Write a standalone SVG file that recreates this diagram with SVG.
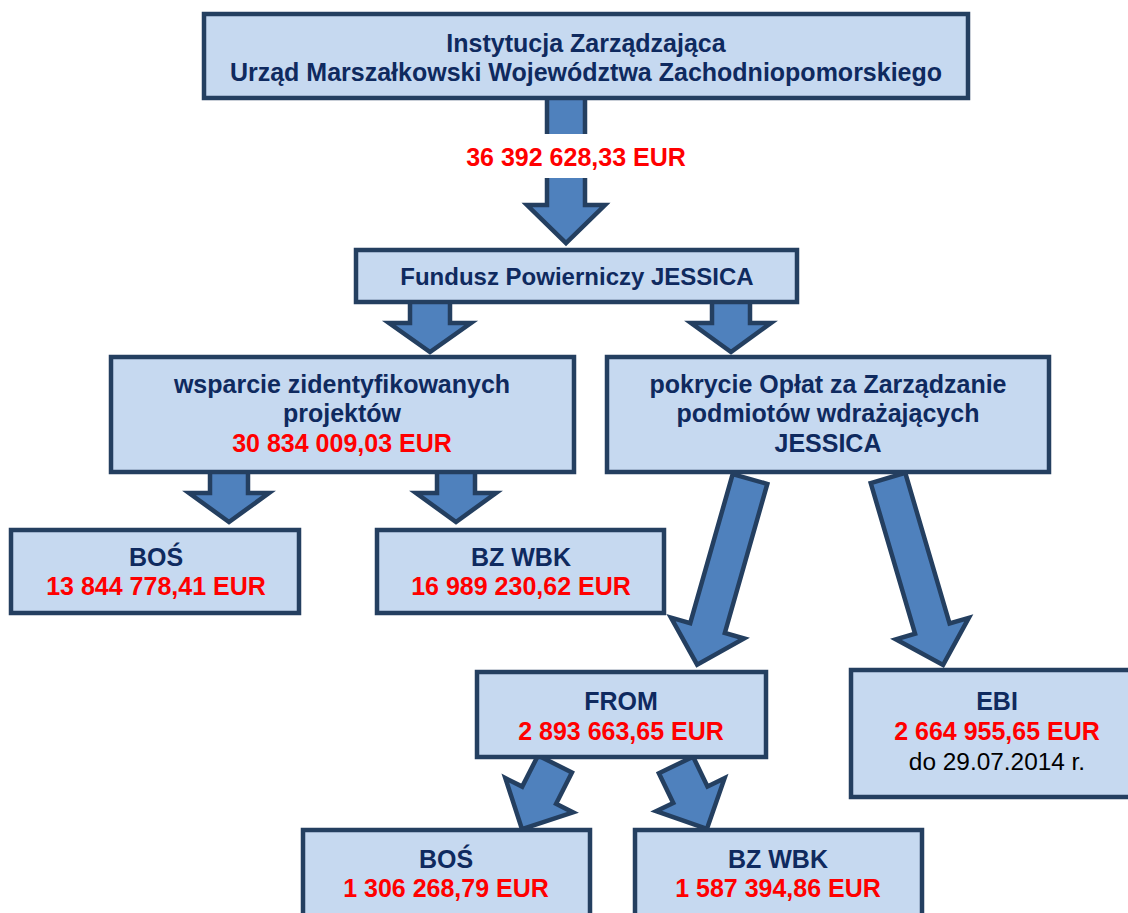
<svg xmlns="http://www.w3.org/2000/svg" width="1128" height="913" viewBox="0 0 1128 913">
<defs>
<style>
.box{fill:#c6d9f0;stroke:#243f60;stroke-width:4.5}
.arr{fill:#4f81bd;stroke:#243f60;stroke-width:4.5;stroke-linejoin:miter}
text{font-family:"Liberation Sans",Arial,sans-serif;font-size:25px;font-weight:bold;text-anchor:middle}
.n{fill:#0f2a5f}
.f{font-size:24px}
.r{fill:#ff0000;font-size:25px}
.k{fill:#000000;font-weight:normal;font-size:24.4px}
</style>
</defs>
<rect width="1128" height="913" fill="#ffffff"/>
<g id="connectors">
<polygon class="arr" points="547,96 585,96 585,205 605,205 566,243 527,205 547,205"/>
<rect x="455" y="134" width="240" height="44" fill="#ffffff"/>
<text class="r" x="576" y="166">36 392 628,33 EUR</text>
<polygon class="arr" points="410,300 450,300 450,323 471,323 430,352 389,323 410,323"/>
<polygon class="arr" points="712,300 750,300 750,323 771,323 731,352 691,323 712,323"/>
<polygon class="arr" points="210,470 248,470 248,493 269,493 229,522 189,493 210,493"/>
<polygon class="arr" points="437,470 475,470 475,493 496,493 456,522 416,493 437,493"/>
<polygon class="arr" transform="translate(750,479) rotate(15.9)" points="-18,0 18,0 18,155 38,155 0,193 -38,155 -18,155"/>
<polygon class="arr" transform="translate(888,478) rotate(-16.4)" points="-18,0 18,0 18,157 38,157 0,195 -38,157 -18,157"/>
<polygon class="arr" transform="translate(555,764) rotate(26.9)" points="-19,0 19,0 19,35 38,35 0,73 -38,35 -19,35"/>
<polygon class="arr" transform="translate(676,765) rotate(-25.8)" points="-19,0 19,0 19,33 38,33 0,71 -38,33 -19,33"/>
</g>
<g id="n-top">
<rect class="box" x="204" y="14" width="764" height="84"/>
<text class="n" x="586" y="52">Instytucja Zarządzająca</text>
<text class="n" x="586" y="81">Urząd Marszałkowski Województwa Zachodniopomorskiego</text>
</g>
<g id="n-fundusz">
<rect class="box" x="356" y="250" width="441" height="52"/>
<text class="n f" x="577" y="285">Fundusz Powierniczy JESSICA</text>
</g>
<g id="n-wsparcie">
<rect class="box" x="111" y="357" width="463" height="115"/>
<text class="n" x="342" y="393">wsparcie zidentyfikowanych</text>
<text class="n" x="342" y="422">projektów</text>
<text class="r" x="342" y="452">30 834 009,03 EUR</text>
</g>
<g id="n-pokrycie">
<rect class="box" x="607" y="357" width="442" height="115"/>
<text class="n" x="828" y="393">pokrycie Opłat za Zarządzanie</text>
<text class="n" x="828" y="422">podmiotów wdrażających</text>
<text class="n" x="828" y="452">JESSICA</text>
</g>
<g id="n-bos1">
<rect class="box" x="11" y="530" width="288" height="83"/>
<text class="n" x="156" y="566">BOŚ</text>
<text class="r" x="156" y="595">13 844 778,41 EUR</text>
</g>
<g id="n-bzwbk1">
<rect class="box" x="377" y="530" width="287" height="83"/>
<text class="n" x="521" y="566">BZ WBK</text>
<text class="r" x="521" y="595">16 989 230,62 EUR</text>
</g>
<g id="n-from">
<rect class="box" x="477" y="672" width="289" height="85"/>
<text class="n" x="621" y="710">FROM</text>
<text class="r" x="621" y="740">2 893 663,65 EUR</text>
</g>
<g id="n-ebi">
<rect class="box" x="851" y="670" width="290" height="127"/>
<text class="n" x="997" y="710">EBI</text>
<text class="r" x="997" y="740">2 664 955,65 EUR</text>
<text class="k" x="997" y="770">do 29.07.2014 r.</text>
</g>
<g id="n-bos2">
<rect class="box" x="303" y="830" width="287" height="95"/>
<text class="n" x="446" y="868">BOŚ</text>
<text class="r" x="446" y="897">1 306 268,79 EUR</text>
</g>
<g id="n-bzwbk2">
<rect class="box" x="635" y="830" width="287" height="95"/>
<text class="n" x="778" y="868">BZ WBK</text>
<text class="r" x="778" y="897">1 587 394,86 EUR</text>
</g>
</svg>
